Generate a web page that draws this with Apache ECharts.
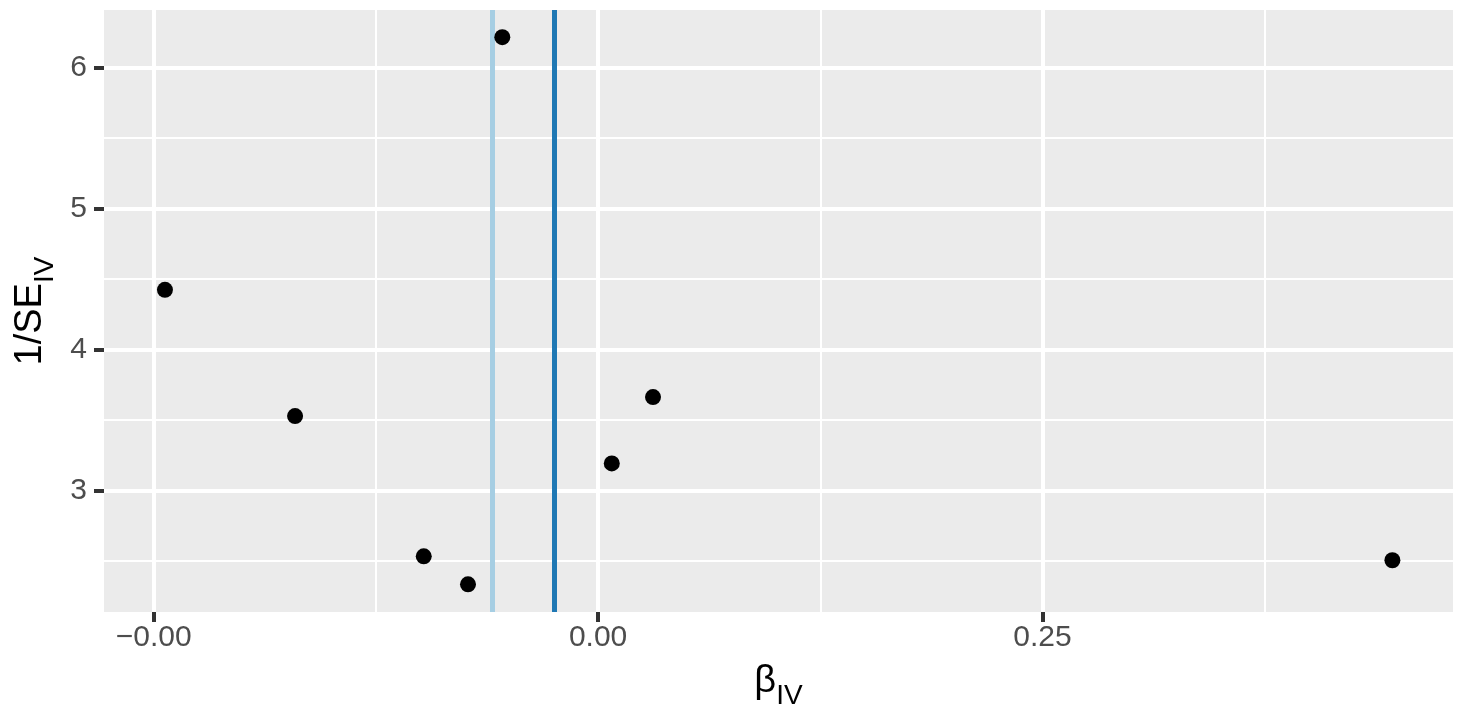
<!DOCTYPE html>
<html>
<head>
	<meta charset="utf-8">
	<script src="https://cdn.jsdelivr.net/npm/echarts@6/dist/echarts.min.js"></script>
	<style>html,body{margin:0;padding:0;background:#fff;}</style>
</head>
<body>
	<div id="main" style="width: 1461px; height: 705px;"></div>
<script type="text/javascript">
        // per-study IV estimates and precision
        var beta = [-0.2437, -0.1705, -0.0981, -0.0732, -0.0539, 0.0077, 0.0309, 0.4469];
        var invSE = [4.423, 3.527, 2.532, 2.333, 6.215, 3.191, 3.662, 2.504];
        // vertical reference lines (pooled estimates)
        var refLines = [-0.0597, -0.0245];
        var refColors = ['#a6cee3', '#1f78b4'];
        // ticks
        var xTicks = [-0.25, 0, 0.25];
        var xTickLabels = ['\u22120.00', '0.00', '0.25'];
        var xMinor = [-0.125, 0.125, 0.375];
        var yTicks = [3, 4, 5, 6];
        var yMinor = [2.5, 3.5, 4.5, 5.5];

        var font = 'Liberation Sans, Arial, sans-serif';
        var myChart = echarts.init(document.getElementById('main'));

        var points = [];
        for (var i = 0; i < beta.length; i++) {
            points.push([beta[i], invSE[i]]);
        }

        var minorData = [];
        xMinor.forEach(function (v) { minorData.push({xAxis: v}); });
        yMinor.forEach(function (v) { minorData.push({yAxis: v}); });

        var refData = refLines.map(function (v, i) {
            return {xAxis: v, lineStyle: {color: refColors[i]}};
        });

        var nameRich = {
            b: {fontSize: 38, fontFamily: font, color: '#000', lineHeight: 44, verticalAlign: 'top'},
            s: {fontSize: 28, fontFamily: font, color: '#000', lineHeight: 28, verticalAlign: 'top', padding: [19, 0, 0, 0]}
        };

        var option = {
            backgroundColor: '#fff',
            animation: false,
            grid: {
                left: 104, top: 10, right: 8, bottom: 93,
                outerBoundsMode: 'none',
                containLabel: false,
                show: true, backgroundColor: '#ebebeb', borderWidth: 0
            },
            xAxis: {
                type: 'value',
                min: -0.278, max: 0.481,
                name: '{b|\u03b2}{s|IV}',
                nameLocation: 'middle',
                nameGap: 51,
                nameTextStyle: {fontFamily: font, rich: nameRich},
                axisLine: {show: false, onZero: false},
                axisTick: {show: true, length: 10, customValues: xTicks, lineStyle: {color: '#333', width: 4}},
                axisLabel: {
                    customValues: xTicks,
                    margin: 11,
                    fontSize: 30, fontFamily: font, color: '#4d4d4d',
                    formatter: function (v) {
                        var k = xTicks.indexOf(v);
                        return k >= 0 ? xTickLabels[k] : '';
                    }
                },
                splitLine: {show: true, lineStyle: {color: '#fff', width: 4}}
            },
            yAxis: {
                type: 'value',
                min: 2.137, max: 6.408,
                name: '{b|1/SE}{s|IV}',
                nameLocation: 'middle',
                nameGap: 48,
                nameRotate: 90,
                nameTextStyle: {fontFamily: font, rich: nameRich},
                axisLine: {show: false, onZero: false},
                axisTick: {show: true, length: 10, customValues: yTicks, lineStyle: {color: '#333', width: 4}},
                axisLabel: {
                    customValues: yTicks,
                    margin: 17,
                    fontSize: 30, fontFamily: font, color: '#4d4d4d'
                },
                splitLine: {show: true, lineStyle: {color: '#fff', width: 4}}
            },
            series: [
                {
                    // minor grid lines
                    type: 'scatter',
                    data: [],
                    z: 1,
                    silent: true,
                    markLine: {
                        z: 1,
                        silent: true,
                        precision: 6,
                        symbol: 'none',
                        label: {show: false},
                        lineStyle: {color: '#fff', width: 2, type: 'solid'},
                        data: minorData
                    }
                },
                {
                    // reference lines
                    type: 'scatter',
                    data: [],
                    z: 2,
                    silent: true,
                    markLine: {
                        z: 2,
                        silent: true,
                        precision: 6,
                        symbol: 'none',
                        label: {show: false},
                        lineStyle: {width: 5, type: 'solid'},
                        data: refData
                    }
                },
                {
                    type: 'scatter',
                    data: points,
                    z: 3,
                    symbolSize: 16,
                    itemStyle: {color: '#000', opacity: 1}
                }
            ]
        };

        myChart.setOption(option);
    </script>
</body>
</html>
